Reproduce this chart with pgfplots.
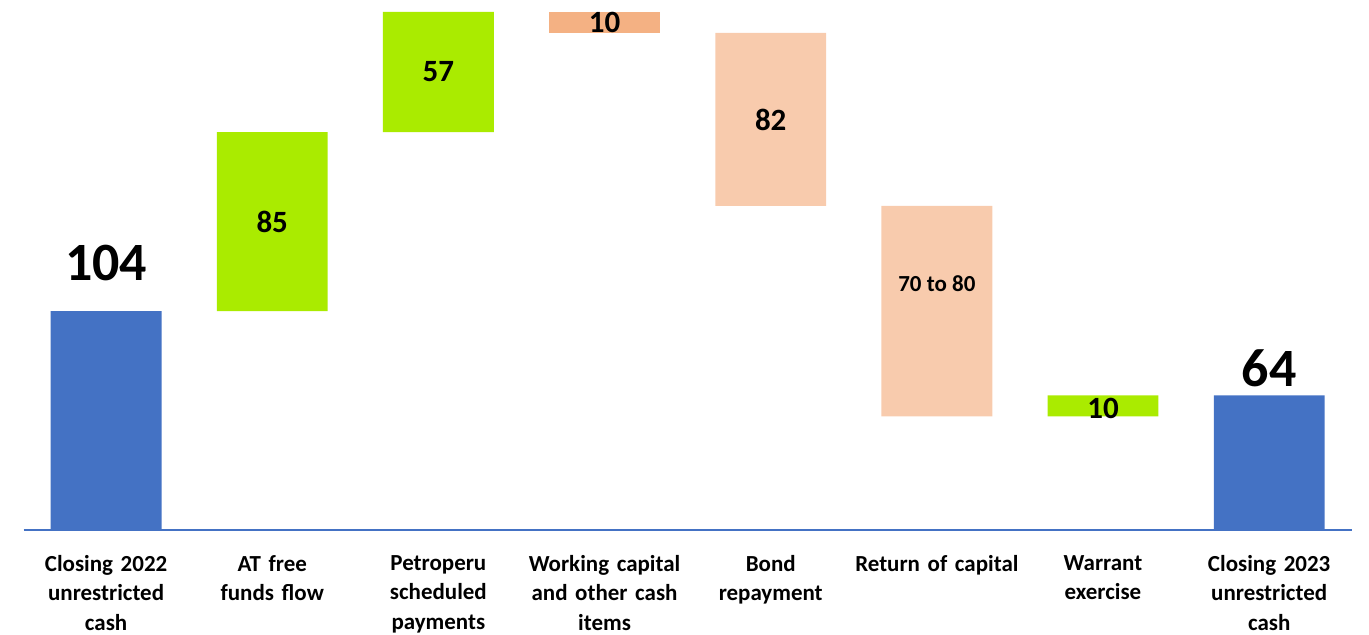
\documentclass[border=0pt]{standalone}
\usepackage{pgfplots}
\pgfplotsset{compat=1.18}
\usepackage{pgfplotstable}
\usepackage{fontspec}
\setmainfont{Carlito}
\definecolor{barblue}{HTML}{4472C4}
\definecolor{bargreen}{HTML}{AAEB00}
\definecolor{barorange}{HTML}{F4B183}
\definecolor{barpeach}{HTML}{F8CBAD}

% waterfall: invisible base + visible step per colour
\pgfplotstableread{
x base blue green orange peach
0 0   104 0  0  0
1 104 0   85 0  0
2 189 0   57 0  0
3 236 0   0  10 0
4 154 0   0  0  82
5 54  0   0  0  100
6 54  0   10 0  0
7 0   64  0  0  0
}\flows

\pgfplotsset{frame/.style={scale only axis, width=1369pt, height=635pt,
  xmin=-0.634, xmax=7.593, ymin=-49.29, ymax=251.66, clip=false}}

\begin{document}
\begin{tikzpicture}
\begin{axis}[
  frame,
  ybar stacked, bar width=0.667,
  axis x line=middle, axis y line=none,
  x axis line style={-, draw=barblue, line width=1.5pt, shorten <=23pt, shorten >=16pt},
  xtick={0,...,7}, major tick length=0pt,
  xticklabels={{Closing 2022\\unrestricted\\cash},{AT free\\funds flow},{Petroperu\\scheduled\\payments},{Working capital\\and other cash\\items},{Bond\\repayment},{Return of capital},{Warrant\\exercise},{Closing 2023\\unrestricted\\cash}},
  xticklabel style={anchor=north, inner sep=0pt, yshift=-25pt, align=center, text width=200pt,
    font=\fontsize{23}{29.5}\selectfont\bfseries},
]
  \addplot[draw=none, fill=none] table[x=x, y=base] {\flows};
  \addplot[draw=none, fill=barblue] table[x=x, y=blue] {\flows};
  \addplot[draw=none, fill=bargreen] table[x=x, y=green] {\flows};
  \addplot[draw=none, fill=barorange] table[x=x, y=orange] {\flows};
  \addplot[draw=none, fill=barpeach] table[x=x, y=peach] {\flows};
  \path (rel axis cs:0,0) rectangle (rel axis cs:1,1);
\end{axis}

% value labels on an overlaid axis with the same frame
\begin{axis}[frame, hide axis]
  \addplot[draw=none, mark=none,
    nodes near coords, point meta=explicit symbolic,
    every node near coord/.append style={anchor=center, inner sep=0pt, text=black,
      font=\fontsize{31}{33}\selectfont\bfseries}]
    coordinates {(1,146.4)[85] (2,217.5)[57] (3,241.0)[10] (4,194.8)[82] (6,58.0)[10]};
  \addplot[draw=none, mark=none,
    nodes near coords, point meta=explicit symbolic,
    every node near coord/.append style={anchor=center, inner sep=0pt, text=black,
      font=\fontsize{23}{26}\selectfont\bfseries}]
    coordinates {(5,117)[70 to 80]};
  \addplot[draw=none, mark=none,
    nodes near coords, point meta=explicit symbolic,
    every node near coord/.append style={anchor=center, inner sep=0pt, text=black,
      font=\fontsize{54}{56}\selectfont\bfseries}]
    coordinates {(0,127)[104] (7,77.0)[64]};
\end{axis}
\end{tikzpicture}
\end{document}
